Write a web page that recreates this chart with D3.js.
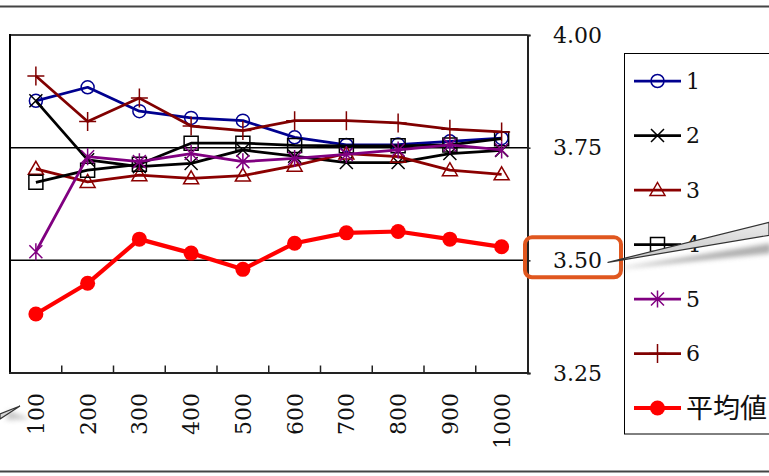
<!DOCTYPE html>
<html>
<head>
<meta charset="utf-8">
<script src="https://cdn.jsdelivr.net/npm/d3@7"></script>
<style>
  html, body { margin: 0; padding: 0; background: #ffffff; }
  svg { display: block; }
  text { font-family: "DejaVu Serif", "Noto Sans CJK JP", serif; fill: #111111; }
</style>
</head>
<body>
<svg id="chart" width="769" height="476"></svg>
<script>
// Categories along the bottom axis
const categories = ["100", "200", "300", "400", "500", "600", "700", "800", "900", "1000"];

// Series values
const series1 = [3.854, 3.884, 3.831, 3.816, 3.810, 3.773, 3.756, 3.757, 3.764, 3.771];
const series2 = [3.854, 3.723, 3.708, 3.715, 3.745, 3.731, 3.717, 3.717, 3.737, 3.744];
const series3 = [3.703, 3.674, 3.689, 3.682, 3.688, 3.710, 3.737, 3.730, 3.700, 3.691];
const series4 = [3.673, 3.700, 3.713, 3.760, 3.760, 3.755, 3.754, 3.754, 3.756, 3.770];
const series5 = [3.519, 3.730, 3.719, 3.737, 3.719, 3.726, 3.735, 3.745, 3.756, 3.745];
const series6 = [3.909, 3.808, 3.860, 3.798, 3.788, 3.810, 3.810, 3.805, 3.791, 3.785];
const average = [3.381, 3.449, 3.547, 3.516, 3.480, 3.538, 3.561, 3.564, 3.547, 3.530];

// Legend names and value-axis ticks
const seriesNames = ["1", "2", "3", "4", "5", "6", "平均値"];
const yTicks = [3.25, 3.50, 3.75, 4.00];
const gridValues = [3.50, 3.75];

const svg = d3.select("#chart");

const plot = { left: 10, right: 527.5, top: 35, bottom: 373 };

const x = d3.scaleBand().domain(categories).range([plot.left, plot.right]).paddingInner(0).paddingOuter(0);
const y = d3.scaleLinear().domain([3.25, 4.00]).range([plot.bottom, plot.top]);
const cx = c => x(c) + x.bandwidth() / 2;

// Outer rules of the sheet
svg.append("line").attr("x1", 0).attr("x2", 769).attr("y1", 6.5).attr("y2", 6.5)
  .attr("stroke", "#444").attr("stroke-width", 2);
svg.append("line").attr("x1", 0).attr("x2", 769).attr("y1", 471.5).attr("y2", 471.5)
  .attr("stroke", "#444").attr("stroke-width", 2);

// Gridlines
svg.append("g").selectAll("line").data(gridValues).join("line")
  .attr("x1", plot.left).attr("x2", plot.right)
  .attr("y1", d => y(d)).attr("y2", d => y(d))
  .attr("stroke", "#000").attr("stroke-width", 1.5);

// Plot frame
svg.append("line").attr("x1", plot.left).attr("x2", plot.right).attr("y1", plot.top).attr("y2", plot.top)
  .attr("stroke", "#3a3a3a").attr("stroke-width", 2);
svg.append("line").attr("x1", plot.left).attr("x2", plot.left).attr("y1", plot.top - 1).attr("y2", plot.bottom)
  .attr("stroke", "#000").attr("stroke-width", 2);

// Bottom axis: line plus inward ticks at category boundaries
const xAxis = svg.append("g");
xAxis.append("line").attr("x1", plot.left - 1).attr("x2", plot.right + 1)
  .attr("y1", plot.bottom).attr("y2", plot.bottom)
  .attr("stroke", "#222").attr("stroke-width", 2);
xAxis.selectAll("line.tick").data(categories.slice(1)).join("line")
  .attr("class", "tick")
  .attr("x1", d => x(d)).attr("x2", d => x(d))
  .attr("y1", plot.bottom).attr("y2", plot.bottom - 7.5)
  .attr("stroke", "#222").attr("stroke-width", 1.5);
xAxis.selectAll("text").data(categories).join("text")
  .attr("transform", d => `translate(${cx(d)},393) rotate(-90)`)
  .attr("text-anchor", "end")
  .attr("dy", "0.36em")
  .style("font-size", "22px")
  .text(d => d);

// Right value axis
const yAxis = svg.append("g")
  .attr("transform", `translate(${plot.right},0)`)
  .call(d3.axisRight(y).tickValues(yTicks).tickFormat(d3.format(".2f")).tickSize(3).tickPadding(22.5));
yAxis.select(".domain").attr("stroke", "#222").attr("stroke-width", 2);
yAxis.selectAll(".tick line").attr("stroke", "#222").attr("stroke-width", 1.5);
yAxis.selectAll(".tick text").style("font-size", "22px").attr("fill", "#111");

// Marker shapes
const markerPaths = {
  x: "M-6.5,-6.5L6.5,6.5M-6.5,6.5L6.5,-6.5",
  triangle: "M0,-7.5L7.5,5.5L-7.5,5.5Z",
  square: "M-7,-7L7,-7L7,7L-7,7Z",
  star: "M-6.5,-6.5L6.5,6.5M-6.5,6.5L6.5,-6.5M0,-8.5L0,8.5",
  plus: "M-8.5,0L8.5,0M0,-9.5L0,9.5"
};

function drawMarker(g, type, color) {
  if (type === "circle") {
    g.append("circle").attr("r", 6.5).attr("fill", "none").attr("stroke", color).attr("stroke-width", 1.5);
  } else if (type === "dot") {
    g.append("circle").attr("r", 7.5).attr("fill", color);
  } else {
    g.append("path").attr("d", markerPaths[type]).attr("fill", "none")
      .attr("stroke", color).attr("stroke-width", 1.5);
  }
}

const seriesDefs = [
  { values: series1, color: "#00008f", marker: "circle", width: 2.75 },
  { values: series2, color: "#000000", marker: "x", width: 2.75 },
  { values: series3, color: "#8b0000", marker: "triangle", width: 2.75 },
  { values: series4, color: "#000000", marker: "square", width: 2.75 },
  { values: series5, color: "#800080", marker: "star", width: 2.75 },
  { values: series6, color: "#800000", marker: "plus", width: 2.75 },
  { values: average, color: "#ff0000", marker: "dot", width: 4.2 }
];

const plotLayer = svg.append("g");
const line = d3.line();
seriesDefs.forEach(s => {
  const pts = s.values.map((v, i) => [cx(categories[i]), y(v)]);
  plotLayer.append("path").attr("d", line(pts)).attr("fill", "none")
    .attr("stroke", s.color).attr("stroke-width", s.width).attr("stroke-linejoin", "round");
  pts.forEach(p => drawMarker(plotLayer.append("g").attr("transform", `translate(${p[0]},${p[1]})`), s.marker, s.color));
});

// Legend
const legend = svg.append("g");
legend.append("rect").attr("x", 624.5).attr("y", 53.5).attr("width", 170).attr("height", 380.5)
  .attr("fill", "#fff").attr("stroke", "#000").attr("stroke-width", 1);
const legendY = d3.scalePoint().domain(seriesNames).range([81, 408]);
seriesDefs.forEach((s, i) => {
  const ly = legendY(seriesNames[i]);
  legend.append("line").attr("x1", 634).attr("x2", 681).attr("y1", ly).attr("y2", ly)
    .attr("stroke", s.color).attr("stroke-width", s.width);
  drawMarker(legend.append("g").attr("transform", `translate(657.5,${ly})`), s.marker, s.color);
  legend.append("text").attr("x", 686).attr("y", ly).attr("dy", "0.36em")
    .style("font-size", i === 6 ? "27px" : "22px")
    .text(seriesNames[i]);
});

// Callout highlighting the 3.50 label
const defs = svg.append("defs");
defs.append("filter").attr("id", "soft").attr("x", "-20%").attr("y", "-50%").attr("width", "140%").attr("height", "200%")
  .append("feGaussianBlur").attr("stdDeviation", 2.5);
const grad = defs.append("linearGradient").attr("id", "wedge").attr("x1", 0).attr("y1", 0).attr("x2", 0).attr("y2", 1);
grad.append("stop").attr("offset", "0%").attr("stop-color", "#ececec");
grad.append("stop").attr("offset", "100%").attr("stop-color", "#c4c4c4");

const labelY = y(3.50);
svg.append("rect").attr("x", 525).attr("y", labelY - 23).attr("width", 96).attr("height", 40)
  .attr("rx", 7).attr("fill", "none").attr("stroke", "#e0571f").attr("stroke-width", 4);

svg.append("path").attr("d", `M610,${labelY + 4} L769,${labelY - 22} L769,${labelY - 12} Z`)
  .attr("fill", "#9a9a9a").attr("opacity", 0.8).attr("filter", "url(#soft)")
  .attr("transform", "translate(2,5)");
svg.append("path").attr("d", `M608,${labelY + 2} L769,${labelY - 38} L769,${labelY - 25} Z`)
  .attr("fill", "url(#wedge)").attr("stroke", "#333").attr("stroke-width", 1.2).attr("stroke-linejoin", "round");

// Callout pointing at the first category label
svg.append("path").attr("d", "M8,410 L30,419 L6,420 Z")
  .attr("fill", "#b0b0b0").attr("opacity", 0.7).attr("filter", "url(#soft)");
svg.append("path").attr("d", "M0,414 L20,406 L0,419 Z")
  .attr("fill", "#d6d6d6").attr("stroke", "#333").attr("stroke-width", 1.2);
</script>
</body>
</html>
